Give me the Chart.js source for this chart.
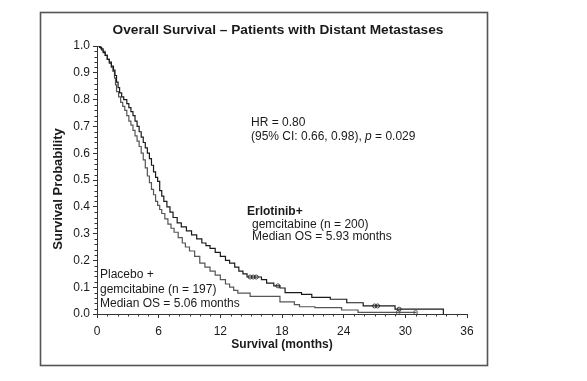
<!DOCTYPE html>
<html><head><meta charset="utf-8">
<script src="https://cdn.jsdelivr.net/npm/chart.js@4/dist/chart.umd.min.js"></script>
<style>html,body{margin:0;padding:0;background:#fff}canvas{display:block}</style>
</head><body>
<canvas id="c" width="587" height="381"></canvas>
<script>
// Kaplan-Meier step points (months, survival probability)
const erlTimes = [0,0.25,0.45,0.6,0.8,1.0,1.2,1.4,1.6,1.75,1.9,2.05,2.2,2.4,2.6,2.9,3.1,3.3,3.5,3.7,3.9,4.1,4.3,4.5,4.7,4.9,5.1,5.3,5.5,5.7,5.9,6.1,6.3,6.5,6.8,7.1,7.4,7.8,8.2,8.7,9.2,9.7,10.2,10.6,11.0,11.5,12.0,12.5,12.9,13.4,13.8,14.2,14.6,16.0,16.5,17.2,17.8,18.3,19.9,20.9,22.7,24.3,25.9,29.0,33.7];
const erlSurv  = [1.0,0.995,0.985,0.975,0.965,0.95,0.94,0.925,0.91,0.89,0.865,0.845,0.825,0.81,0.80,0.785,0.77,0.755,0.74,0.72,0.70,0.68,0.66,0.64,0.62,0.60,0.58,0.555,0.53,0.51,0.495,0.46,0.44,0.42,0.40,0.38,0.36,0.34,0.325,0.31,0.295,0.28,0.265,0.255,0.245,0.23,0.215,0.20,0.19,0.175,0.16,0.15,0.138,0.128,0.115,0.105,0.097,0.08,0.073,0.062,0.055,0.042,0.03,0.018,0.0];
const plaTimes = [0,0.35,0.6,0.8,1.0,1.2,1.4,1.55,1.7,1.8,1.9,2.1,2.3,2.5,2.7,2.9,3.1,3.3,3.5,3.7,3.9,4.1,4.3,4.5,4.7,4.9,5.1,5.3,5.5,5.7,5.9,6.1,6.3,6.6,6.9,7.2,7.5,7.9,8.3,8.6,9.0,9.5,10.0,10.5,11.0,11.5,12.0,12.5,12.9,13.3,13.7,14.9,17.8,19.2,19.7,21.2,23.8,25.4,31.1];
const plaSurv  = [1.0,0.99,0.98,0.965,0.95,0.935,0.92,0.905,0.88,0.855,0.83,0.81,0.79,0.775,0.76,0.74,0.72,0.705,0.685,0.665,0.645,0.625,0.60,0.575,0.545,0.515,0.49,0.465,0.445,0.42,0.405,0.39,0.375,0.355,0.335,0.32,0.305,0.285,0.265,0.25,0.235,0.215,0.19,0.175,0.16,0.145,0.128,0.112,0.10,0.088,0.078,0.066,0.045,0.035,0.027,0.024,0.015,0.006,0.006];
// censored observations
const erlCensorTimes = [14.9,15.2,15.5,17.6,27.0,27.3,29.4];
const erlCensorSurv  = [0.138,0.138,0.138,0.105,0.03,0.03,0.018];
const plaCensorTimes = [29.3,31.0];
const plaCensorSurv  = [0.006,0.006];
const xTickStep = 6, xMax = 36, xMinorStep = 1;
const yTickStep = 0.1, yMax = 1.0, yMinorStep = 0.02;

const toPts = (t, s) => t.map((v, i) => ({x: v, y: s[i]}));
const FONT = '"Liberation Sans", Arial, sans-serif';
const TXT = '#1a1a1a';

const decor = {
  id: 'decor',
  beforeDraw(chart) {
    const ctx = chart.ctx;
    ctx.save();
    ctx.fillStyle = '#fff';
    ctx.fillRect(0, 0, chart.width, chart.height);
    ctx.strokeStyle = '#555';
    ctx.lineWidth = 1.6;
    ctx.strokeRect(40.5, 12.5, 447, 353);
    ctx.restore();
  },
  afterDraw(chart) {
    const ctx = chart.ctx;
    const xs = chart.scales.x, ys = chart.scales.y;
    ctx.save();
    // minor ticks
    ctx.strokeStyle = '#333';
    ctx.lineWidth = 1;
    ctx.beginPath();
    for (let m = xMinorStep; m < xMax; m += xMinorStep) {
      if (m % xTickStep === 0) continue;
      const px = Math.round(xs.getPixelForValue(m)) + 0.5;
      ctx.moveTo(px, ys.bottom); ctx.lineTo(px, ys.bottom + 2.5);
    }
    for (let k = 1; k < Math.round(yMax / yMinorStep); k++) {
      if (k % 5 === 0) continue;
      const py = Math.round(ys.getPixelForValue(k * yMinorStep)) + 0.5;
      ctx.moveTo(xs.left, py); ctx.lineTo(xs.left - 2.5, py);
    }
    ctx.stroke();
    // title
    ctx.fillStyle = TXT;
    ctx.textBaseline = 'middle';
    ctx.textAlign = 'center';
    ctx.font = 'bold 13.7px ' + FONT;
    ctx.fillText('Overall Survival \u2013 Patients with Distant Metastases', 278, 30);
    // y axis title
    ctx.save();
    ctx.translate(58, 189);
    ctx.rotate(-Math.PI / 2);
    ctx.font = 'bold 13px ' + FONT;
    ctx.fillText('Survival Probability', 0, 0);
    ctx.restore();
    // annotations
    ctx.textAlign = 'left';
    ctx.font = '12px ' + FONT;
    ctx.fillText('HR = 0.80', 251, 123);
    let x = 251;
    const seg = (t, f) => { ctx.font = f; ctx.fillText(t, x, 137); x += ctx.measureText(t).width; };
    seg('(95% CI: 0.66, 0.98), ', '12px ' + FONT);
    seg('p', 'italic 12px ' + FONT);
    seg(' = 0.029', '12px ' + FONT);
    ctx.font = 'bold 12px ' + FONT;
    ctx.fillText('Erlotinib+', 247, 212);
    ctx.font = '12px ' + FONT;
    ctx.fillText('gemcitabine (n = 200)', 252, 225);
    ctx.fillText('Median OS = 5.93 months', 252, 237);
    ctx.fillText('Placebo +', 100, 275);
    ctx.fillText('gemcitabine (n = 197)', 100, 290);
    ctx.fillText('Median OS = 5.06 months', 100, 304);
    ctx.restore();
  }
};

new Chart(document.getElementById('c'), {
  type: 'scatter',
  data: {
    datasets: [
      {label: 'Erlotinib + gemcitabine', data: toPts(erlTimes, erlSurv), showLine: true, stepped: 'before',
       borderColor: '#1a1a1a', borderWidth: 1.2, pointRadius: 0},
      {label: 'Placebo + gemcitabine', data: toPts(plaTimes, plaSurv), showLine: true, stepped: 'before',
       borderColor: '#555', borderWidth: 1.2, pointRadius: 0},
      {label: 'Erlotinib censored', data: toPts(erlCensorTimes, erlCensorSurv), showLine: false,
       pointStyle: 'circle', pointRadius: 2, borderColor: '#1a1a1a', borderWidth: 0.8, backgroundColor: 'rgba(0,0,0,0)'},
      {label: 'Placebo censored', data: toPts(plaCensorTimes, plaCensorSurv), showLine: false,
       pointStyle: 'circle', pointRadius: 2, borderColor: '#555', borderWidth: 0.8, backgroundColor: 'rgba(0,0,0,0)'}
    ]
  },
  options: {
    responsive: false,
    animation: false,
    layout: {padding: {left: 40, right: 120, top: 46, bottom: 16}},
    plugins: {legend: {display: false}, tooltip: {enabled: false}, title: {display: false}},
    scales: {
      x: {
        type: 'linear', min: 0, max: xMax,
        afterFit(s) { s.height = 51; },
        ticks: {stepSize: xTickStep, color: TXT, font: {family: FONT, size: 12}, padding: 6, maxRotation: 0},
        grid: {display: true, drawOnChartArea: false, drawTicks: true, tickLength: 4, color: '#333'},
        border: {display: true, color: '#333', width: 1},
        title: {display: true, text: 'Survival (months)', color: TXT, font: {family: FONT, size: 12, weight: 'bold'}, padding: {top: 0, bottom: 13}}
      },
      y: {
        type: 'linear', min: 0, max: yMax,
        afterFit(s) { s.width = 57; },
        ticks: {stepSize: yTickStep, color: TXT, font: {family: FONT, size: 12}, padding: 3, callback: v => Number(v).toFixed(1)},
        grid: {display: true, drawOnChartArea: false, drawTicks: true, tickLength: 4, color: '#333'},
        border: {display: true, color: '#333', width: 1},
        title: {display: false}
      }
    }
  },
  plugins: [decor]
});
</script>
</body></html>
